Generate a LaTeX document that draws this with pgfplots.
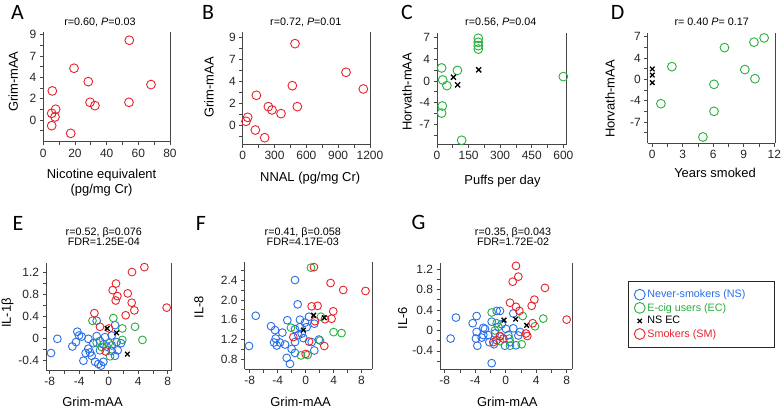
\documentclass[border=0pt]{standalone}
\usepackage{fontspec}
\setmainfont{Liberation Sans}
\newfontfamily\letterfont{Carlito}
\usepackage{pgfplots}
\pgfplotsset{compat=1.18}
\definecolor{nsblue}{RGB}{40,110,230}
\definecolor{ecgreen}{RGB}{40,175,60}
\definecolor{smred}{RGB}{230,35,45}
\definecolor{axgray}{RGB}{70,70,70}
\newcommand{\lf}{\fontsize{10.8}{12}\selectfont}
\pgfplotsset{
  panel/.style={
    scale only axis, clip=false,
    axis x line=bottom, axis y line=left,
    axis line style={-, axgray, line width=0.8pt},
    tick align=outside,
    major tick length=3.5bp, minor tick length=3.5bp,
    every tick/.style={axgray, line width=0.7pt},
    tick label style={font=\fontsize{12}{13}\selectfont, text=black!85},
    /pgf/number format/assume math mode=true,
    /pgf/number format/1000 sep={},
    xlabel style={font=\fontsize{13}{15}\selectfont, align=center, anchor=center},
    ylabel style={font=\fontsize{13}{15}\selectfont, anchor=center},
    title style={font=\fontsize{10.8}{10.5}\selectfont, align=center, anchor=center},
    legend image code/.code={\draw[#1] plot coordinates {(0bp,0bp)};},
  },
  smc/.style={only marks, mark=o, mark size=#1, smred, mark options={line width=0.9bp}},
  ecc/.style={only marks, mark=o, mark size=#1, ecgreen, mark options={line width=0.9bp}},
  nsc/.style={only marks, mark=o, mark size=#1, nsblue, mark options={line width=0.9bp}},
  nsx/.style={only marks, mark=x, mark size=#1, black, mark options={line width=1.3bp}},
}
\newcommand{\rline}{\draw[axgray, line width=0.8pt] (rel axis cs:1,0) -- (rel axis cs:1,1);}
\begin{document}
\begin{tikzpicture}
\useasboundingbox (0bp,0bp) rectangle (784bp,-408bp);
\tikzset{lett/.style={font=\letterfont\fontsize{22}{22}\selectfont, anchor=center, inner sep=0pt}}
\node[lett] at (17.5bp,-12.5bp) {A};
\node[lett] at (208bp,-12.5bp) {B};
\node[lett] at (407bp,-12.5bp) {C};
\node[lett] at (617.5bp,-12.5bp) {D};
\node[lett] at (18bp,-223.5bp) {E};
\node[lett] at (201bp,-223.5bp) {F};
\node[lett] at (418.5bp,-222.5bp) {G};

% ---------- A
\begin{axis}[panel, at={(43.3bp,-141.7bp)}, anchor=south west,
  width=126.7bp, height=110bp,
  xmin=0, xmax=80, ymin=-2.29, ymax=9.3,
  xtick={0,20,40,60,80}, minor xtick={10,30,50,70},
  ytick={0,2.25,4.5,6.75,9}, yticklabels={0,2,4,7,9},
  minor ytick={-1.125,1.125,3.375,5.625,7.875},
  title={r=0.60, \textit{P}=0.03}, title style={at={(axis description cs:0.447,1.034)}},
  xlabel={Nicotine equivalent\\(pg/mg Cr)}, xlabel style={at={(axis description cs:0.46,-0.371)}},
  ylabel={Grim-mAA}, ylabel style={at={(axis description cs:-0.237,0.545)}},
]
\rline
\addplot[smc=4.4bp] coordinates {(54.3,8.4)(19.4,5.45)(28.4,4.04)(68,3.73)(5.7,3.06)(29.5,1.86)(32.6,1.51)(54.1,1.86)(7.8,1.13)(5.3,0.70)(7.4,0.32)(5.3,-0.6)(17.3,-1.41)};
\end{axis}

% ---------- B
\begin{axis}[panel, at={(242.7bp,-144bp)}, anchor=south west,
  width=127.3bp, height=111.7bp,
  xmin=0, xmax=1200, ymin=-1.96, ymax=9.55,
  xtick={0,300,600,900,1200}, xticklabels={0,300,600,900,1200}, minor xtick={150,450,750,1050},
  ytick={0,2.25,4.5,6.75,9}, yticklabels={0,2,4,7,9},
  minor ytick={-1.125,1.125,3.375,5.625,7.875},
  title={r=0.72, \textit{P}=0.01}, title style={at={(axis description cs:0.496,1.038)}},
  xlabel={NNAL (pg/mg Cr)}, xlabel style={at={(axis description cs:0.53,-0.307)}},
  ylabel={Grim-mAA}, ylabel style={at={(axis description cs:-0.265,0.506)}},
]
\rline
\addplot[smc=4.4bp] coordinates {(493,8.38)(974,5.43)(1137,3.71)(468,4.05)(129,3.06)(242,1.89)(276,1.55)(515,1.89)(361,1.17)(47,0.79)(31,0.38)(119,-0.52)(207,-1.31)};
\end{axis}

% ---------- C
\begin{axis}[panel, at={(437bp,-144bp)}, anchor=south west,
  width=129.7bp, height=110.7bp,
  xmin=0, xmax=616, ymin=-10.2, ymax=7.7,
  xtick={0,150,300,450,600}, minor xtick={75,225,375,525},
  ytick={-7,-3.5,0,3.5,7}, yticklabels={-7,-4,0,4,7},
  minor ytick={-8.75,-5.25,-1.75,1.75,5.25},
  title={r=0.56, \textit{P}=0.04}, title style={at={(axis description cs:0.492,1.048)}},
  xlabel={Puffs per day}, xlabel style={at={(axis description cs:0.505,-0.34)}},
  ylabel={Horvath-mAA}, ylabel style={at={(axis description cs:-0.231,0.472)}},
]
\rline
\addplot[ecc=4.4bp] coordinates {(196,6.9)(196,6.25)(196,5.7)(196,5.15)(600,0.7)(22,2.1)(97,1.7)(27,0.16)(47,-0.76)(25,-4.05)(22,-5.2)(117,-9.6)};
\addplot[nsx=3.6bp] coordinates {(198,1.8)(78,0.6)(98,-0.65)};
\end{axis}

% ---------- D
\begin{axis}[panel, at={(647.7bp,-143.3bp)}, anchor=south west,
  width=127.3bp, height=110.6bp,
  xmin=-0.45, xmax=12.07, ymin=-10.5, ymax=7.65,
  xtick={0,3,6,9,12}, minor xtick={1.5,4.5,7.5,10.5},
  ytick={-7,-3.5,0,3.5,7}, yticklabels={-7,-4,0,4,7},
  minor ytick={-8.75,-5.25,-1.75,1.75,5.25},
  title={r= 0.40 \textit{P}= 0.17}, title style={at={(axis description cs:0.503,1.043)}},
  xlabel={Years smoked}, xlabel style={at={(axis description cs:0.529,-0.271)}},
  ylabel={Horvath-mAA}, ylabel style={at={(axis description cs:-0.296,0.40)}},
]
\rline
\addplot[ecc=4.4bp] coordinates {(11.0,6.8)(10.0,6.1)(7.1,5.2)(1.93,2.08)(9.1,1.6)(10.1,0.1)(6.07,-0.82)(0.85,-4.0)(6.07,-5.25)(4.98,-9.46)};
\addplot[nsx=3.2bp] coordinates {(0,1.7)(0,0.7)(0,-0.55)};
\end{axis}

% ---------- E
\begin{axis}[panel, at={(46bp,-370bp)}, anchor=south west,
  width=125.7bp, height=106.7bp,
  xmin=-8.5, xmax=8.54, ymin=-0.58, ymax=1.37,
  xtick={-8,-4,0,4,8}, minor xtick={-6,-2,2,6},
  ytick={-0.4,0,0.4,0.8,1.2}, yticklabels={-0.4,0,0.4,0.8,1.2},
  minor ytick={-0.2,0.2,0.6,1.0},
  title={r=0.52, β=0.076\\FDR=1.25E-04}, title style={at={(axis description cs:0.46,1.195)}},
  xlabel={Grim-mAA}, xlabel style={at={(axis description cs:0.37,-0.297)}},
  ylabel={IL-1β}, ylabel style={at={(axis description cs:-0.306,0.534)}},
]
\rline
\addplot[nsc=3.9bp] coordinates {(-1.63,0.32)(0.86,0.24)(-6.96,-0.01)(-7.82,-0.27)(-4.25,0.12)(-4.02,0.05)(-3.66,0.03)(-4.93,-0.15)(-4.43,-0.07)(-2.76,-0.01)(-1.63,0.04)(-1.18,-0.05)(-0.72,-0.11)(-0.27,-0.15)(0.41,-0.13)(1.08,-0.07)(1.67,-0.09)(-2.76,-0.19)(-3.12,-0.27)(-2.53,-0.26)(-3.43,-0.41)(-1.85,-0.43)(-1.4,-0.47)(-1.04,-0.5)(-0.72,-0.43)(-2.31,-0.32)(0.86,-0.32)(0.41,-0.23)(1.22,-0.22)(-1.18,-0.22)(-2.08,-0.09)(-0.5,0.02)(0.41,0.05)};
\addplot[ecc=3.9bp] coordinates {(0.63,0.37)(-2.2,0.32)(1.85,0.18)(3.57,0.21)(4.57,-0.03)(1.85,-0.03)(-1.63,-0.08)(-0.95,-0.16)(0.18,-0.33)(0.0,-0.09)};
\addplot[smc=3.9bp] coordinates {(4.84,1.30)(3.16,1.21)(0.99,1.0)(0.54,0.88)(2.58,0.82)(1.18,0.77)(0.95,0.69)(3.12,0.65)(3.48,0.51)(2.3,0.42)(7.86,0.56)(-1.94,0.46)(-1.18,0.21)(0.05,0.18)(-0.4,-0.24)};
\addplot[nsx=3.3bp] coordinates {(-0.2,0.18)(1.07,0.10)(2.53,-0.29)};
\end{axis}

% ---------- F
\begin{axis}[panel, at={(244.5bp,-369.3bp)}, anchor=south west,
  width=127.5bp, height=107.6bp,
  xmin=-8.75, xmax=9.5, ymin=0.6, ymax=2.77,
  xtick={-8,-4,0,4,8}, minor xtick={-6,-2,2,6},
  ytick={0.8,1.2,1.6,2.0,2.4}, yticklabels={0.8,1.2,1.6,2.0,2.4},
  minor ytick={1.0,1.4,1.8,2.2,2.6},
  title={r=0.41, β=0.058\\FDR=4.17E-03}, title style={at={(axis description cs:0.457,1.178)}},
  xlabel={Grim-mAA}, xlabel style={at={(axis description cs:0.44,-0.30)}},
  ylabel={IL-8}, ylabel style={at={(axis description cs:-0.357,0.579)}},
]
\rline
\addplot[nsc=3.9bp] coordinates {(-1.52,2.4)(-1.14,1.91)(-7.14,1.68)(-8.1,1.07)(-2.62,1.59)(-0.81,1.6)(0.48,1.66)(-0.1,1.54)(-4.95,1.47)(-4.38,1.39)(-3.33,1.34)(-1.52,1.41)(-1.05,1.29)(-0.57,1.32)(0.14,1.45)(1.24,1.52)(-4.29,1.22)(-4.52,1.14)(-3.67,1.14)(-2.95,1.1)(-4.14,1.08)(-1.52,1.15)(-2.0,1.01)(-1.52,0.93)(1.24,0.98)(1.9,1.2)(-2.71,0.83)(-2.24,0.71)(-0.81,1.45)(-0.33,1.23)(0.86,1.15)};
\addplot[ecc=3.9bp] coordinates {(0.76,2.65)(2.19,1.66)(-2.1,1.44)(4.0,1.35)(5.14,1.33)(2.05,1.18)(-0.67,0.88)(0.29,0.89)};
\addplot[smc=3.9bp] coordinates {(1.19,2.66)(3.57,2.34)(5.38,2.2)(8.57,2.18)(0.86,1.87)(1.71,1.88)(3.95,1.77)(3.71,1.62)(2.76,1.61)(1.33,1.57)(-1.76,1.25)(0.48,1.16)(2.67,1.07)(0.0,0.91)};
\addplot[nsx=3.3bp] coordinates {(1.14,1.69)(2.67,1.64)(-0.33,1.39)};
\end{axis}

% ---------- G
\begin{axis}[panel, at={(440bp,-369.3bp)}, anchor=south west,
  width=132.3bp, height=106bp,
  xmin=-8.6, xmax=8.73, ymin=-0.76, ymax=1.31,
  xtick={-8,-4,0,4,8}, minor xtick={-6,-2,2,6},
  ytick={-0.4,0,0.4,0.8,1.2}, yticklabels={-0.4,0,0.4,0.8,1.2},
  minor ytick={-0.6,-0.2,0.2,0.6,1.0},
  title={r=0.35, β=0.043\\FDR=1.72E-02}, title style={at={(axis description cs:0.552,1.196)}},
  xlabel={Grim-mAA}, xlabel style={at={(axis description cs:0.509,-0.306)}},
  ylabel={IL-6}, ylabel style={at={(axis description cs:-0.283,0.484)}},
  legend style={at={(axis description cs:1.421,0.833)}, anchor=north west,
    draw=black!85, line width=0.7bp,
    cells={anchor=west}, nodes={inner sep=1.2bp},
    inner xsep=6bp, inner ysep=7.5bp, row sep=1.5bp, column sep=1bp},
]
\rline
\addplot[nsc=3.9bp, legend image post style={mark size=5.4bp}] coordinates {(-6.51,0.25)(-7.21,-0.16)(-3.8,0.28)(-4.32,0.14)(-2.93,0.05)(-1.83,-0.64)(-1.18,0.38)(-0.74,0.38)(1.0,0.33)(-3.8,-0.03)(-3.89,-0.16)(-3.71,-0.3)(-3.14,-0.14)(-2.71,0.03)(-2.14,-0.23)(-1.53,-0.27)(-2.27,-0.09)(-0.96,0.07)(-0.52,0.12)(0.04,0.03)(0.35,-0.09)(-0.09,-0.3)(1.35,-0.29)(1.66,-0.1)(1.0,0.04)(-2.93,-0.09)(-1.83,0.17)(-1.4,-0.06)(-0.74,-0.12)(0.57,-0.23)(1.88,-0.03)};
\addlegendentry{\lf\textcolor{nsblue}{Never-smokers (NS)}\hspace*{22bp}}
\addplot[ecc=3.9bp, legend image post style={mark size=5.4bp}] coordinates {(-1.83,0.35)(2.23,0.28)(4.93,0.23)(3.84,0.08)(-1.18,0.14)(0.48,-0.16)(2.1,-0.27)(0.57,-0.3)(-0.74,-0.21)(-1.4,0.0)};
\addlegendentry{\lf\textcolor{ecgreen}{E-cig users (EC)}}
\addplot[nsx=3.3bp, legend image post style={mark size=3bp}] coordinates {(-0.22,0.2)(1.3,0.22)(2.75,0.1)};
\addlegendentry{\lf NS EC}
\addplot[smc=3.9bp, legend image post style={mark size=5.4bp}] coordinates {(1.35,1.26)(1.66,1.05)(0.92,0.95)(5.15,0.83)(3.76,0.6)(3.41,0.48)(0.57,0.54)(1.35,0.46)(1.79,0.38)(7.99,0.21)(3.54,0.14)(2.66,-0.06)(2.84,-0.11)(-0.74,-0.11)(-1.18,-0.19)(-1.62,-0.23)(-0.31,-0.16)};
\addlegendentry{\lf\textcolor{smred}{Smokers (SM)}}
\end{axis}
\end{tikzpicture}
\end{document}
